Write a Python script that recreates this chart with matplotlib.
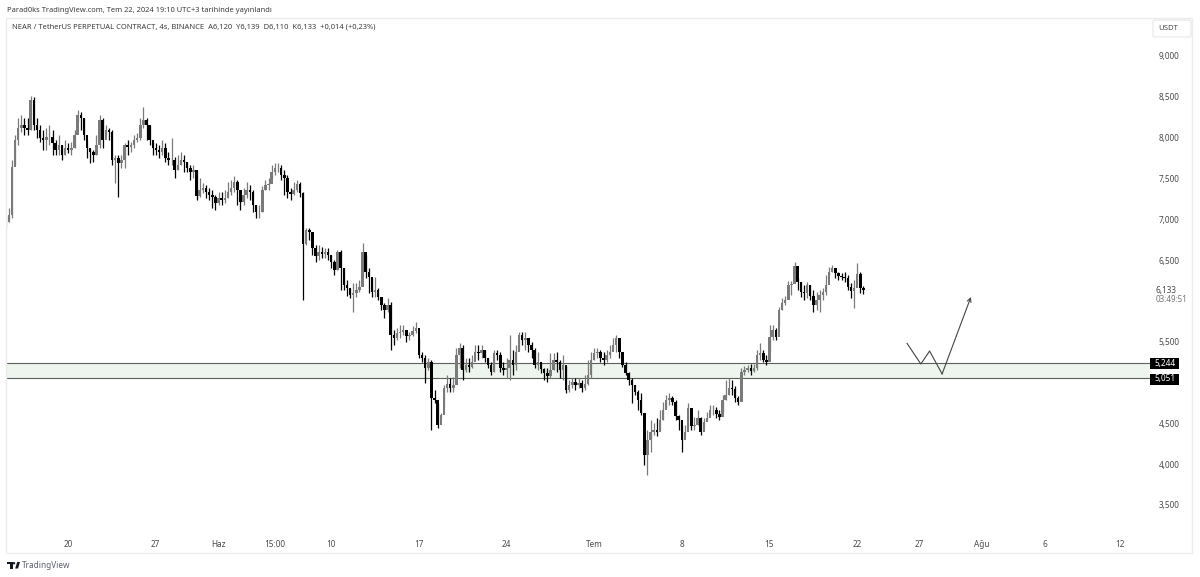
import numpy as np
import matplotlib
matplotlib.use("Agg")
import matplotlib.pyplot as plt
from matplotlib.patches import FancyBboxPatch, Rectangle, Circle, Polygon

plt.rcParams['font.family'] = ['Noto Sans', 'DejaVu Sans']

# 6h candles, one row per week (20 May = day 0)
closes = [
    6966, 7050, 7640, 7970, 8118, 8155, 8118, 8094, 8460, 8155, 8094, 7995, 7970, 8010, 8010, 7935, 7850, 7910, 7790, 7870,
    7850, 7870, 8030, 8280, 8240, 8030, 7870, 7820, 7790, 7910, 8220, 7970, 8090, 8070, 7730, 7750, 7690, 7730, 7910, 7885, 7910, 7970, 7995, 8155, 8220, 8155, 7970, 7870,
    7850, 7820, 7870, 7750, 7730, 7730, 7600, 7665, 7730, 7700, 7630, 7580, 7600, 7285, 7360, 7385, 7335, 7300, 7270, 7200, 7260, 7235, 7260, 7335, 7385, 7455, 7360, 7210,
    7300, 7360, 7335, 7175, 7090, 7090, 7360, 7420, 7430, 7580, 7630, 7630, 7540, 7505, 7335, 7310, 7360, 7430, 7320, 6700, 6870, 6845, 6650, 6550, 6600, 6575, 6600, 6560,
    6475, 6380, 6600, 6405, 6195, 6160, 6075, 6095, 6135, 6170, 6600, 6355, 6290, 6110, 6135, 6050, 5950, 5890, 5950, 5580, 5545, 5605, 5620, 5645, 5570, 5580, 5630, 5670,
    5340, 5300, 5180, 5250, 4810, 4786, 4480, 4600, 4930, 4980, 4930, 4970, 5340, 5420, 5155, 5215, 5190, 5250, 5375, 5360, 5400, 5300, 5215, 5130, 5360, 5340, 5180, 5155,
    5180, 5275, 5215, 5375, 5580, 5520, 5545, 5460, 5400, 5215, 5250, 5165, 5115, 5080, 5155, 5275, 5250, 5155, 5215, 4910, 4970, 5005, 4970, 4995, 4930, 4980, 5090, 5275,
    5360, 5375, 5300, 5275, 5340, 5375, 5460, 5545, 5375, 5215, 5115, 5030, 4970, 4885, 4786, 4625, 4110, 4295, 4395, 4420, 4395, 4540, 4665, 4786, 4810, 4760, 4590, 4540,
    4295, 4395, 4690, 4465, 4480, 4565, 4395, 4515, 4565, 4665, 4665, 4615, 4580, 4786, 4850, 4930, 4920, 4810, 4760, 5130, 5155, 5180, 5140, 5180, 5340, 5360, 5275, 5250,
    5560, 5645, 5560, 5890, 5975, 6010, 6195, 6205, 6430, 6230, 6110, 6095, 6195, 6060, 5950, 6010, 6075, 6110, 6195, 6355, 6405, 6340, 6305, 6290, 6280, 6170, 6120, 6160,
    6330, 6160, 6133,
]
highs = [
    7050, 7140, 7730, 8030, 8240, 8280, 8240, 8240, 8510, 8500, 8240, 8155, 8090, 8120, 8155, 8090, 7970, 8030, 7910, 7970,
    7935, 7950, 8090, 8340, 8310, 8240, 7970, 7870, 7850, 8030, 8280, 8240, 8155, 8120, 8090, 7790, 7790, 7790, 7935, 7970, 7950, 8030, 8060, 8240, 8375, 8240, 8155, 7950,
    7935, 7910, 7970, 7935, 7820, 7995, 7760, 7790, 7820, 7790, 7700, 7665, 7665, 7600, 7505, 7440, 7420, 7385, 7360, 7300, 7335, 7335, 7360, 7455, 7480, 7530, 7480, 7360,
    7385, 7455, 7420, 7360, 7175, 7175, 7405, 7480, 7505, 7665, 7690, 7690, 7665, 7600, 7540, 7385, 7455, 7480, 7455, 7335, 6890, 6890, 6845, 6685, 6685, 6660, 6650, 6650,
    6560, 6500, 6625, 6625, 6405, 6255, 6160, 6220, 6220, 6255, 6710, 6560, 6405, 6280, 6290, 6160, 6050, 5975, 6035, 5985, 5645, 5670, 5705, 5705, 5645, 5620, 5695, 5740,
    5545, 5375, 5340, 5300, 5275, 4910, 4750, 4630, 4970, 5090, 5055, 5070, 5420, 5485, 5460, 5300, 5300, 5340, 5460, 5460, 5460, 5400, 5300, 5250, 5400, 5400, 5375, 5250,
    5300, 5580, 5400, 5460, 5620, 5620, 5620, 5545, 5495, 5420, 5375, 5250, 5180, 5180, 5360, 5360, 5375, 5275, 5340, 5215, 5030, 5055, 5055, 5055, 5030, 5090, 5275, 5375,
    5420, 5420, 5400, 5375, 5400, 5460, 5545, 5580, 5545, 5310, 5250, 5130, 5055, 4970, 4910, 4870, 4625, 4420, 4540, 4505, 4565, 4665, 4760, 4850, 4870, 4835, 4786, 4600,
    4480, 4480, 4750, 4600, 4580, 4665, 4580, 4565, 4640, 4725, 4725, 4700, 4665, 4850, 5030, 5055, 5030, 4960, 4835, 5180, 5200, 5215, 5225, 5225, 5400, 5485, 5400, 5340,
    5705, 5705, 5670, 5925, 6035, 6060, 6245, 6245, 6475, 6280, 6230, 6195, 6230, 6195, 6135, 6110, 6135, 6160, 6320, 6415, 6440, 6405, 6355, 6340, 6355, 6320, 6220, 6255,
    6465, 6355, 6180,
]
lows = [
    6890, 6966, 7015, 7665, 7910, 8070, 8030, 8030, 8090, 8090, 7995, 7950, 7850, 7850, 7910, 7790, 7790, 7790, 7726, 7790,
    7810, 7790, 7870, 8190, 8090, 7970, 7750, 7690, 7700, 7790, 7870, 7870, 8030, 7970, 7665, 7440, 7270, 7630, 7630, 7790, 7820, 7870, 7950, 7970, 8120, 7970, 7910, 7790,
    7790, 7750, 7790, 7700, 7665, 7665, 7505, 7600, 7665, 7580, 7580, 7480, 7505, 7235, 7270, 7320, 7260, 7235, 7140, 7115, 7175, 7175, 7200, 7260, 7300, 7335, 7175, 7115,
    7175, 7260, 7235, 7090, 7015, 7015, 7090, 7360, 7360, 7505, 7540, 7580, 7480, 7300, 7260, 7235, 7300, 7335, 7270, 6010, 6685, 6745, 6560, 6475, 6500, 6525, 6525, 6500,
    6405, 6320, 6380, 6135, 6135, 6060, 6035, 5865, 6050, 6110, 6305, 6280, 6095, 6050, 6050, 6010, 5890, 5790, 5865, 5400, 5460, 5520, 5545, 5580, 5495, 5520, 5570, 5605,
    5300, 5250, 4995, 5155, 4420, 4750, 4445, 4565, 4700, 4885, 4885, 4885, 5005, 5180, 5030, 5130, 5130, 5180, 5300, 5275, 5300, 5250, 5180, 5090, 5130, 5275, 5130, 5090,
    5055, 5030, 5090, 5155, 5400, 5460, 5400, 5375, 5300, 5180, 5155, 5115, 5030, 5005, 5055, 5155, 5130, 5055, 5030, 4870, 4885, 4930, 4910, 4930, 4885, 4910, 4970, 5055,
    5275, 5300, 5250, 5215, 5250, 5300, 5400, 5375, 5300, 5190, 5090, 4970, 4750, 4850, 4665, 4600, 3990, 3870, 4150, 4355, 4345, 4420, 4540, 4690, 4725, 4725, 4540, 4420,
    4150, 4355, 4445, 4420, 4420, 4480, 4355, 4445, 4540, 4600, 4600, 4565, 4540, 4640, 4786, 4850, 4850, 4760, 4725, 4970, 5090, 5130, 5090, 5130, 5155, 5275, 5250, 5215,
    5375, 5520, 5520, 5705, 5890, 5950, 6035, 6075, 6230, 6135, 6050, 6010, 6035, 6010, 5865, 5890, 5865, 6010, 6075, 6320, 6355, 6280, 6255, 6255, 6230, 6135, 6035, 5915,
    6170, 6095, 6085,
]
first_open = 6900

# drawn zone and the hand sketched projection
zone_top = 5244
zone_bottom = 5051
sketch_days = [67.0, 68.1, 68.8, 69.8, 72.1]
sketch_prices = [5480, 5227, 5386, 5105, 6048]

price_ticks = [9000, 8500, 8000, 7500, 7000, 6500, 5500, 4500, 4000, 3500]
date_ticks = [0, 7, 12, 16.5, 21, 28, 35, 42, 49, 56, 63, 68, 73, 78, 84]
date_labels = ['20', '27', 'Haz', '15:00', '10', '17', '24', 'Tem', '8', '15', '22', '27', 'Ağu', '6', '12']
bold_labels = ['Haz', 'Tem', 'Ağu']

W, H = 1200, 577
fig = plt.figure(figsize=(W / 100, H / 100), dpi=100, facecolor='white')

# panel in pixels: x 6..1150, y 18..553
ax = fig.add_axes([6 / W, 1 - 553 / H, (1150 - 6) / W, (553 - 18) / H])
ax.set_xlim(-4.95, 86.4)
ax.set_ylim(9000 - (553 - 56) * 12.25, 9000 + (56 - 18) * 12.25)
for s in ax.spines.values():
    s.set_visible(False)

closes = np.array(closes, dtype=float)
opens = np.r_[first_open, closes[:-1]]
days = np.arange(len(closes)) * 0.25 - 5 + 0.02
up = closes >= opens

ax.axhspan(zone_bottom, zone_top, color='#edf5ee', lw=0, zorder=1)
ax.axhline(zone_top, color='#5a605b', lw=0.8, zorder=2)
ax.axhline(zone_bottom, color='#5a605b', lw=0.8, zorder=2)

colors = np.where(up, '#7a7a7a', '#000000')
ax.vlines(days, lows, highs, colors=colors, lw=0.9, zorder=3)
ax.bar(days, np.abs(closes - opens), bottom=np.minimum(opens, closes), width=0.2,
       color=colors, lw=0, zorder=4)

ax.plot(sketch_days[:-1], sketch_prices[:-1], color='#444444', lw=0.8, zorder=5)
ax.annotate('', xy=(sketch_days[-1], sketch_prices[-1]), xytext=(sketch_days[-2], sketch_prices[-2]),
            arrowprops=dict(arrowstyle='->', color='#444444', lw=0.8, shrinkA=0, shrinkB=0,
                            mutation_scale=7), zorder=5)

ax.yaxis.tick_right()
ax.set_yticks(price_ticks)
ax.set_yticklabels([f'{p:,}' for p in price_ticks], fontsize=5.9, color='#4a4a4a')
ax.tick_params(axis='y', length=0, pad=6)
ax.set_xticks(date_ticks)
ax.set_xticklabels(date_labels, fontsize=5.9, color='#4a4a4a')
ax.tick_params(axis='x', length=0, pad=-9.5)
for lab in ax.get_xticklabels():
    if lab.get_text() in bold_labels:
        lab.set_fontweight('bold')

# everything round the chart, in figure pixels
ov = fig.add_axes([0, 0, 1, 1], facecolor='none')
ov.set_xlim(0, W)
ov.set_ylim(H, 0)
ov.axis('off')
ov.add_patch(Rectangle((6, 18), 1186, 535, fill=False, ec='#ececec', lw=1))

ov.text(7, 10, 'Parad0ks TradingView.com, Tem 22, 2024 19:10 UTC+3 tarihinde yayınlandı',
        fontsize=5.4, color='#3c3c3c', va='center')
ov.text(12, 27, 'NEAR / TetherUS PERPETUAL CONTRACT, 4s, BINANCE  A6,120  Y6,139  D6,110  K6,133  +0,014 (+0,23%)',
        fontsize=5.43, color='#3c3c3c', va='center')

ov.add_patch(FancyBboxPatch((1153, 20), 38, 17, boxstyle='round,pad=0,rounding_size=2',
                            fc='white', ec='#e6e6e6', lw=0.8))
ov.text(1168, 29, 'USDT', fontsize=5.6, color='#4a4a4a', ha='center', va='center')

ov.text(1156, 290, '6,133', fontsize=5.9, color='#4a4a4a', va='center')
ov.text(1156, 299, '03:49:51', fontsize=5.8, color='#777777', va='center')

for label, y in [(f'{zone_top:,}', 363.5), (f'{zone_bottom:,}', 379)]:
    ov.add_patch(Rectangle((1150, y - 5.5), 29, 11, fc='black', ec='none'))
    ov.text(1165, y, label, fontsize=5.9, color='white', ha='center', va='center')

# TradingView logo and name
ov.add_patch(Rectangle((7, 562), 5.5, 2.2, fc='#131722', ec='none'))
ov.add_patch(Rectangle((9.7, 562), 2.8, 6.5, fc='#131722', ec='none'))
ov.add_patch(Circle((14, 563.2), 1.2, fc='#131722', ec='none'))
ov.add_patch(Polygon([[15.2, 568.5], [17.2, 562], [20, 562], [18, 568.5]], fc='#131722', ec='none'))
ov.text(22, 565.5, 'TradingView', fontsize=5.9, color='#5a5f6b', va='center')

fig.savefig('out.png', dpi=100, facecolor='white')
